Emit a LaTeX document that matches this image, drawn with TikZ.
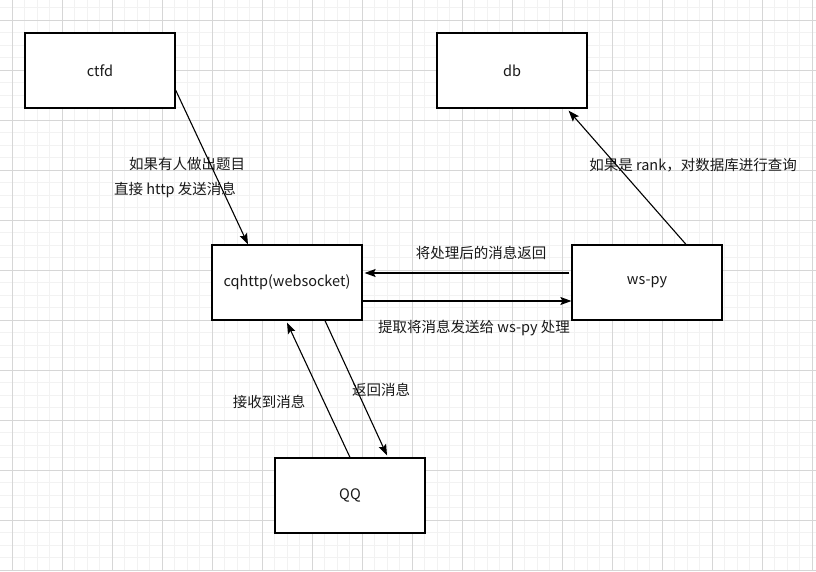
\documentclass[tikz,border=0pt]{standalone}
\usepackage{fontspec}
\setmainfont{Noto Sans CJK SC}
\usepackage{tikz}
\usetikzlibrary{arrows.meta,positioning,calc}
\definecolor{gridmajor}{RGB}{214,214,214}
\definecolor{gridminor}{RGB}{242,242,242}

\begin{document}
\begin{tikzpicture}[x=1pt, y=-1pt, every node/.style={font=\fontsize{14.5}{17}\selectfont, text=black!90}]
\tikzset{box/.style={draw, line width=1.2pt, fill=white, minimum width=150pt, minimum height=75pt}}
\tikzset{flow/.style={line width=1.1pt, -{Stealth[length=11pt, width=8pt, inset=2pt]}}}
\useasboundingbox (0,0) rectangle (816,571);
\fill[white] (0,0) rectangle (816,571);
\foreach \gx in {-0.5,12,...,816} \draw[gridminor, line width=0.6pt] (\gx,0) -- (\gx,571);
\foreach \gy in {7.5,20,...,571} \draw[gridminor, line width=0.6pt] (0,\gy) -- (816,\gy);
\foreach \gx in {12,62,...,812} \draw[gridmajor, line width=0.8pt] (\gx,0) -- (\gx,571);
\foreach \gy in {20,70,...,570} \draw[gridmajor, line width=0.8pt] (0,\gy) -- (816,\gy);
\node[box] (ctfd) at (100,70.5) {ctfd};
\node[box] (db) at (512,70.5) {db};
\node[box] (cqhttp) at (287,282.5) {cqhttp(websocket)};
\node[box] (wspy) at (647,282.5) {ws-py};
\node[box] (qq) at (350,495.5) {QQ};
\node (lblhit) at (187,164) {如果有人做出题目};
\node (lblhttp) at (175,190) {直接 http 发送消息};
\node (lblback) at (481,253) {将处理后的消息返回};
\node (lblsend) at (474,328) {提取将消息发送给 ws-py 处理};
\node (lblrank) at (693,165) {如果是 rank，对数据库进行查询};
\node (lblrecv) at (269,402) {接收到消息};
\node (lblret) at (381,390) {返回消息};
\draw[flow] ($(ctfd.east)+(0,19.5)$) -- ($(cqhttp.north)+(-39,0)$);
\draw[flow] ($(wspy.north)+(39,0)$) -- ($(db.south east)+(-19,2)$);
\draw[flow] ($(wspy.west)+(-2,-9.5)$) -- ($(cqhttp.east)+(2,-9.5)$);
\draw[flow] ($(cqhttp.east)+(0,18.5)$) -- ($(wspy.west)+(0,18.5)$);
\draw[flow] (qq.north) -- ($(cqhttp.south)+(0,2)$);
\draw[flow] ($(cqhttp.south)+(38,0)$) -- ($(qq.north)+(37,-2)$);
\end{tikzpicture}
\end{document}
